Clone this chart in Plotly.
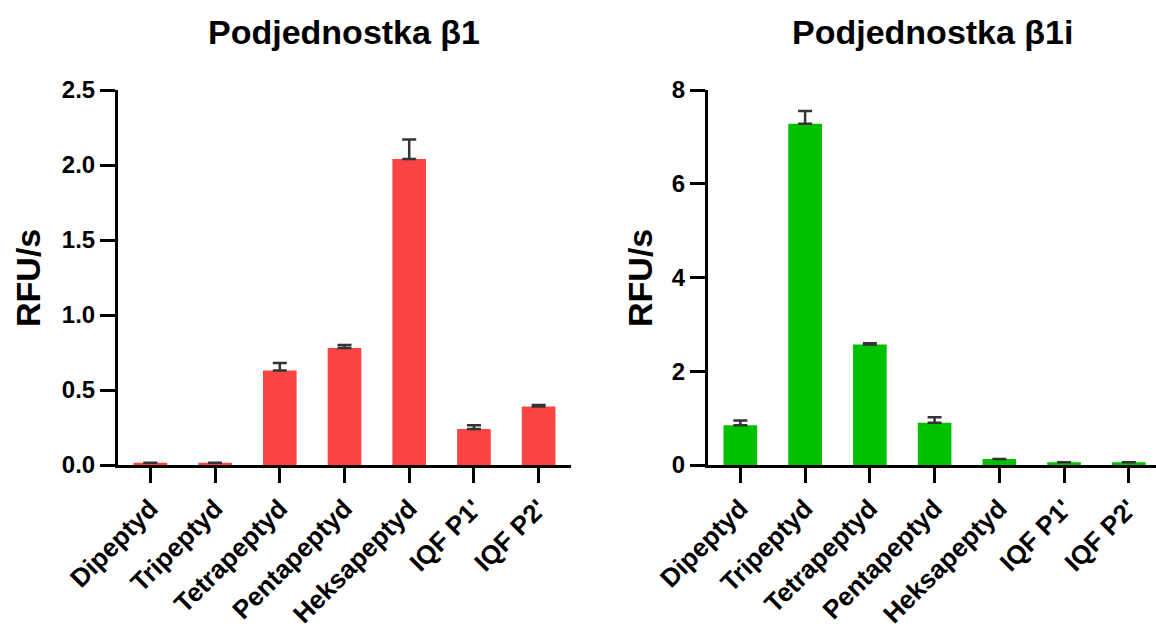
import plotly.graph_objects as go

# Substrate categories shared by both panels
categories = ["Dipeptyd", "Tripeptyd", "Tetrapeptyd", "Pentapeptyd",
              "Heksapeptyd", "IQF P1'", "IQF P2'"]

# Subunit beta1: mean rate and SD (RFU/s)
beta1_mean = [0.015, 0.015, 0.63, 0.78, 2.04, 0.24, 0.39]
beta1_sd = [0.0, 0.0, 0.05, 0.02, 0.13, 0.025, 0.01]

# Subunit beta1i: mean rate and SD (RFU/s)
beta1i_mean = [0.85, 7.28, 2.57, 0.90, 0.13, 0.06, 0.06]
beta1i_sd = [0.10, 0.27, 0.03, 0.12, 0.0, 0.0, 0.0]

left_ticks = [0.0, 0.5, 1.0, 1.5, 2.0, 2.5]
left_ticktext = ["0.0", "0.5", "1.0", "1.5", "2.0", "2.5"]
right_ticks = [0, 2, 4, 6, 8]

W, H = 1156, 630
FONT = "Arial, Liberation Sans, sans-serif"
RED = "#FA4444"
GREEN = "#00C000"


def px_x(p):
    return p / W


def px_y(p):
    return 1 - p / H


fig = go.Figure()

err_style = dict(type="data", symmetric=False, thickness=2.5, width=7,
                 color="#333333")

fig.add_trace(go.Bar(
    x=categories, y=beta1_mean, xaxis="x", yaxis="y",
    marker=dict(color=RED, line=dict(width=0)), width=0.52,
    error_y=dict(array=beta1_sd, arrayminus=[0] * len(beta1_sd), **err_style),
    showlegend=False,
))

fig.add_trace(go.Bar(
    x=categories, y=beta1i_mean, xaxis="x2", yaxis="y2",
    marker=dict(color=GREEN, line=dict(width=0)), width=0.52,
    error_y=dict(array=beta1i_sd, arrayminus=[0] * len(beta1i_sd), **err_style),
    showlegend=False,
))

y_dom = [px_y(465), px_y(90)]

axis_common = dict(
    automargin=False,
    showline=True, linecolor="black", linewidth=3,
    ticks="outside", ticklen=15, tickwidth=3, tickcolor="black",
    showgrid=False, zeroline=False,
)
x_font = dict(family=FONT, size=26, color="black", weight="bold")
y_font = dict(family=FONT, size=24, color="black", weight="bold")

fig.update_layout(
    template="none",
    width=W, height=H,
    margin=dict(l=0, r=0, t=0, b=0, pad=0),
    paper_bgcolor="white", plot_bgcolor="white",
    xaxis=dict(domain=[px_x(118), px_x(571)], anchor="y",
               type="category", range=[-0.5, 6.5], tickangle=-45,
               tickfont=x_font, **axis_common),
    yaxis=dict(domain=y_dom, anchor="x", range=[0, 2.5],
               tickvals=left_ticks, ticktext=left_ticktext,
               tickfont=y_font, **axis_common),
    xaxis2=dict(domain=[px_x(708), 1.0], anchor="y2",
                type="category", range=[-0.5, 6.42], tickangle=-45,
                tickfont=x_font, **axis_common),
    yaxis2=dict(domain=y_dom, anchor="x2", range=[0, 8],
                tickvals=right_ticks,
                tickfont=y_font, **axis_common),
)

title_font = dict(family=FONT, size=34, color="black", weight="bold")
ylab_font = dict(family=FONT, size=34, color="black", weight="bold")

fig.add_annotation(text="Podjednostka β1", x=px_x(344), y=px_y(32),
                   xref="paper", yref="paper", showarrow=False,
                   xanchor="center", yanchor="middle", font=title_font)
fig.add_annotation(text="Podjednostka β1i", x=px_x(932), y=px_y(32),
                   xref="paper", yref="paper", showarrow=False,
                   xanchor="center", yanchor="middle", font=title_font)
fig.add_annotation(text="RFU/s", x=px_x(28), y=px_y(278),
                   xref="paper", yref="paper", showarrow=False,
                   xanchor="center", yanchor="middle", textangle=-90,
                   font=ylab_font)
fig.add_annotation(text="RFU/s", x=px_x(640), y=px_y(278),
                   xref="paper", yref="paper", showarrow=False,
                   xanchor="center", yanchor="middle", textangle=-90,
                   font=ylab_font)

fig.write_html("out.html")
